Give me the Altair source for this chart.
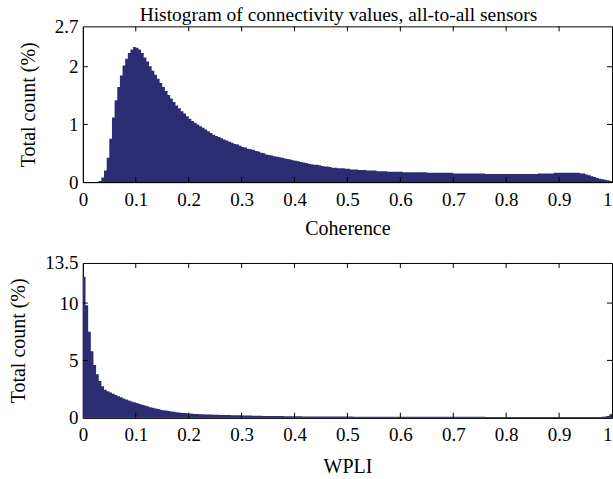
import altair as alt
import pandas as pd
import numpy as np

NAVY = "#2b2c72"
FONT = "Liberation Serif"
BIN = 0.005

# Coherence histogram, percent per 0.005-wide bin (bins start at 0, 0.005, ..., 0.995)
coherence_pct = [
    0, 0, 0, 0, 0, 0, 0.02, 0.08, 0.20, 0.42,
    0.75, 1.12, 1.42, 1.65, 1.85, 2.02, 2.14, 2.24, 2.30, 2.34,
    2.33, 2.30, 2.24, 2.16, 2.09, 2.01, 1.93, 1.86, 1.79, 1.72,
    1.65, 1.58, 1.51, 1.45, 1.39, 1.33, 1.28, 1.23, 1.19, 1.14,
    1.10, 1.06, 1.03, 1.00, 0.97, 0.94, 0.91, 0.88, 0.85, 0.82,
    0.80, 0.78, 0.76, 0.74, 0.72, 0.70, 0.68, 0.66, 0.65, 0.63,
    0.61, 0.60, 0.58, 0.57, 0.56, 0.54, 0.53, 0.51, 0.50, 0.48,
    0.47, 0.46, 0.45, 0.44, 0.43, 0.42, 0.41, 0.40, 0.39, 0.38,
    0.37, 0.36, 0.35, 0.34, 0.33, 0.32, 0.31, 0.30, 0.30, 0.29,
    0.28, 0.27, 0.27, 0.26, 0.25, 0.25, 0.24, 0.24, 0.24, 0.23,
    0.23, 0.22, 0.22, 0.22, 0.21, 0.21, 0.21, 0.20, 0.20, 0.20,
    0.20, 0.19, 0.19, 0.19, 0.19, 0.18, 0.18, 0.18, 0.18, 0.18,
    0.18, 0.17, 0.17, 0.17, 0.17, 0.17, 0.17, 0.17, 0.17, 0.17,
    0.16, 0.16, 0.16, 0.16, 0.16, 0.16, 0.16, 0.16, 0.16, 0.16,
    0.15, 0.15, 0.15, 0.15, 0.15, 0.15, 0.15, 0.15, 0.15, 0.15,
    0.15, 0.15, 0.14, 0.14, 0.14, 0.14, 0.14, 0.14, 0.14, 0.14,
    0.14, 0.14, 0.14, 0.14, 0.14, 0.14, 0.14, 0.14, 0.14, 0.14,
    0.14, 0.14, 0.15, 0.15, 0.15, 0.15, 0.15, 0.15, 0.16, 0.16,
    0.16, 0.16, 0.16, 0.16, 0.16, 0.16, 0.16, 0.16, 0.15, 0.15,
    0.13, 0.12, 0.10, 0.09, 0.07, 0.06, 0.05, 0.04, 0.03, 0.02,
]

# WPLI histogram, percent per 0.005-wide bin
wpli_pct = [
    12.3, 9.8, 7.5, 5.8, 4.6, 3.8, 3.2, 2.75, 2.45, 2.3,
    2.2, 2.1, 1.98, 1.88, 1.78, 1.68, 1.58, 1.5, 1.42, 1.35,
    1.28, 1.2, 1.13, 1.06, 0.99, 0.92, 0.86, 0.8, 0.75, 0.7,
    0.66, 0.62, 0.58, 0.54, 0.51, 0.48, 0.45, 0.42, 0.40, 0.38,
    0.36, 0.35, 0.33, 0.32, 0.31, 0.30, 0.29, 0.28, 0.27, 0.26,
    0.25, 0.25, 0.24, 0.24, 0.23, 0.23, 0.22, 0.22, 0.21, 0.21,
    0.20, 0.20, 0.19, 0.19, 0.18, 0.18, 0.17, 0.17, 0.16, 0.16,
    0.15, 0.15, 0.15, 0.14, 0.14, 0.14, 0.13, 0.13, 0.13, 0.12,
    0.12, 0.12, 0.12, 0.11, 0.11, 0.11, 0.11, 0.11, 0.10, 0.10,
    0.10, 0.10, 0.10, 0.10, 0.10, 0.10, 0.10, 0.10, 0.10, 0.10,
    0.10, 0.10, 0.09, 0.09, 0.09, 0.09, 0.09, 0.09, 0.09, 0.09,
    0.09, 0.09, 0.09, 0.09, 0.09, 0.09, 0.08, 0.08, 0.08, 0.08,
    0.08, 0.08, 0.08, 0.08, 0.08, 0.08, 0.08, 0.08, 0.08, 0.08,
    0.08, 0.08, 0.08, 0.08, 0.08, 0.08, 0.08, 0.08, 0.08, 0.08,
    0.08, 0.08, 0.08, 0.08, 0.08, 0.08, 0.08, 0.08, 0.08, 0.08,
    0.08, 0.08, 0.07, 0.07, 0.07, 0.07, 0.07, 0.07, 0.07, 0.07,
    0.07, 0.07, 0.07, 0.07, 0.07, 0.07, 0.07, 0.07, 0.07, 0.07,
    0.07, 0.07, 0.07, 0.07, 0.06, 0.06, 0.06, 0.06, 0.06, 0.06,
    0.06, 0.06, 0.06, 0.06, 0.06, 0.06, 0.06, 0.06, 0.06, 0.06,
    0.06, 0.06, 0.06, 0.06, 0.06, 0.07, 0.08, 0.10, 0.15, 0.30,
]

x_ticks = [0, 0.1, 0.2, 0.3, 0.4, 0.5, 0.6, 0.7, 0.8, 0.9, 1]
coh_yticks = [0, 1, 2, 2.7]
wpli_yticks = [0, 5, 10, 13.5]

W, H1, H2 = 530, 156, 155
TICK = 5
LABEL_EXPR = "'' + datum.value"


def panel(vals, ymax, yticks, xtitle, h, title_pad, title=None):
    n = len(vals)
    starts = list(np.round(np.arange(n) * BIN, 4)) + [1.0]
    heights = list(vals) + [vals[-1]]
    df = pd.DataFrame({"start": starts, "pct": heights})
    xscale = alt.Scale(domain=[0, 1], nice=False, zero=False)
    yscale = alt.Scale(domain=[0, ymax], nice=False)
    bars = alt.Chart(df).mark_area(color=NAVY, interpolate="step-after", opacity=1).encode(
        x=alt.X("start:Q", scale=xscale,
                axis=alt.Axis(values=x_ticks, labelExpr=LABEL_EXPR, title=xtitle, ticks=False,
                              labelPadding=8, titlePadding=title_pad,
                              labelAlign=alt.ConditionalAxisLabelAlign(
                                  condition={"test": "datum.value == 1", "value": "right"},
                                  value="center"))),
        y=alt.Y("pct:Q", scale=yscale,
                axis=alt.Axis(values=yticks, labelExpr=LABEL_EXPR, title="Total count (%)",
                              ticks=False, labelPadding=5, titlePadding=16)),
        y2=alt.datum(0),
    )
    inner_x = pd.DataFrame({"v": x_ticks[1:-1]})
    inner_y = pd.DataFrame({"t": yticks[1:-1]})
    xt_top = alt.Chart(inner_x).mark_rule(color="black", strokeWidth=1).encode(
        x=alt.X("v:Q", scale=xscale), y=alt.value(0), y2=alt.value(TICK))
    xt_bot = alt.Chart(inner_x).mark_rule(color="black", strokeWidth=1).encode(
        x=alt.X("v:Q", scale=xscale), y=alt.value(h), y2=alt.value(h - TICK))
    yt_left = alt.Chart(inner_y).mark_rule(color="black", strokeWidth=1).encode(
        y=alt.Y("t:Q", scale=yscale), x=alt.value(0), x2=alt.value(TICK))
    yt_right = alt.Chart(inner_y).mark_rule(color="black", strokeWidth=1).encode(
        y=alt.Y("t:Q", scale=yscale), x=alt.value(W), x2=alt.value(W - TICK))
    layer = alt.layer(bars, xt_top, xt_bot, yt_left, yt_right).properties(width=W, height=h)
    if title:
        layer = layer.properties(title=alt.TitleParams(
            title, fontSize=19.5, font=FONT, fontWeight="normal", anchor="middle",
            frame="group", offset=-8, dx=-9, color="black"))
    return layer


top = panel(coherence_pct, 2.7, coh_yticks, "Coherence", H1, 9,
            "Histogram of connectivity values, all-to-all sensors")
bottom = panel(wpli_pct, 13.5, wpli_yticks, "WPLI", H2, 12)

chart = alt.vconcat(top, bottom, spacing=14).properties(
    padding={"left": 8, "right": 0, "top": 4, "bottom": 2}
).configure_axis(
    labelFont=FONT, titleFont=FONT, labelFontSize=19, titleFontSize=20,
    labelColor="black", titleColor="black", titleFontWeight="normal",
    domainColor="black", domainWidth=1, grid=False,
).configure_view(stroke="black", strokeWidth=1)

chart.save("out.html", embed_options={"renderer": "svg", "actions": False})
